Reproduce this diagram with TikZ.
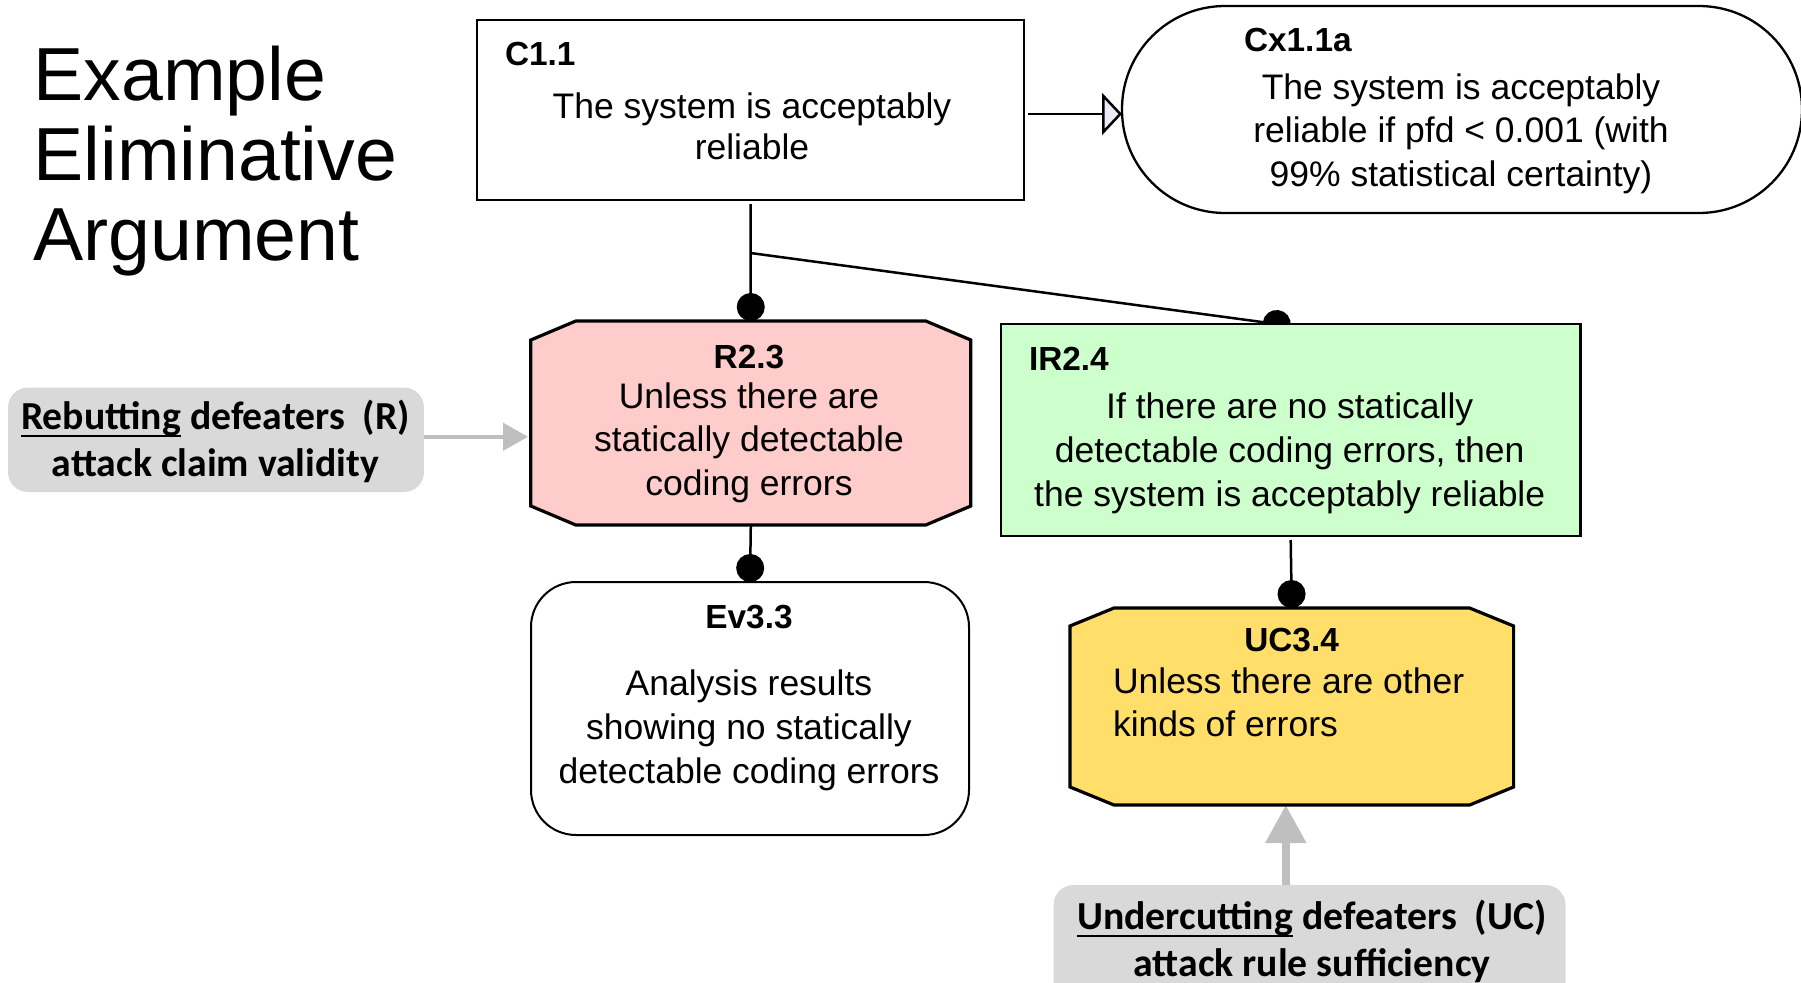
\documentclass[tikz,border=0pt]{standalone}
\usepackage{fontspec}
\setmainfont{Liberation Sans}
\newfontfamily\calloutfont{Carlito}
\usetikzlibrary{arrows.meta,calc}
\pgfdeclarelayer{background}
\pgfsetlayers{background,main}

\definecolor{rebpink}{RGB}{255,204,204}
\definecolor{infgreen}{RGB}{204,255,204}
\definecolor{ucyellow}{RGB}{255,223,105}
\definecolor{calloutgray}{RGB}{217,217,217}
\definecolor{arrowgray}{RGB}{191,191,191}
\definecolor{ctxlav}{RGB}{234,234,248}

% stacked lines whose baseline is the first line
\newcommand\txtlines[2]{\begin{tabular}[t]{@{}#1@{}}#2\end{tabular}}
% underline that crosses the descenders
\newcommand\undl[1]{\setbox0=\hbox{#1}\rlap{\rule[-2.3pt]{\wd0}{0.55pt}}#1}

\begin{document}
\begin{tikzpicture}[x=0.1mm,y=-0.1mm,
  every node/.style={inner sep=0pt,outer sep=0pt},
  titletext/.style={font=\fontsize{21.4}{23}\selectfont,anchor=base west},
  idlabel/.style={font=\fontsize{9.5}{11}\selectfont\bfseries,anchor=base west},
  idcentre/.style={font=\fontsize{9.5}{11}\selectfont\bfseries,anchor=base},
  body/.style={font=\fontsize{10.1}{12.45}\selectfont,anchor=base},
  calltext/.style={font=\calloutfont\bfseries\fontsize{11.3}{13.6}\selectfont,anchor=base},
  callbox/.style={fill=calloutgray,rounded corners=2mm},
  link/.style={draw=black,line width=0.25mm},
  dotend/.style={link,-{Circle[length=2.8mm,width=2.8mm]}},
  ctxarrow/.style={link,-{Triangle[open,length=2mm,width=4.2mm,fill=ctxlav]}},
  attackR/.style={draw=arrowgray,line width=0.45mm,-{Triangle[length=2.5mm,width=2.7mm]}},
  attackU/.style={draw=arrowgray,line width=0.83mm,-{Triangle[length=3.8mm,width=3.9mm]}}
]
\useasboundingbox (0,0) rectangle (1801,983);
\clip (0,0) rectangle (1801,983);

% title
\node[titletext] (t1) at (33.5,100) {Example};
\node[titletext] (t2) at (33.5,180) {Eliminative};
\node[titletext] (t3) at (33.5,260) {Argument};

% claim C1.1
\node[draw,line width=0.2mm,minimum width=54.7mm,minimum height=18mm] (C11) at (750.5,110) {};
\node[idlabel] (C11id) at (505,65) {C1.1};
\node[body] (C11txt) at (752,118.5) {\txtlines{c}{The system is acceptably\\[-0.7pt]reliable}};

% context Cx1.1a
\node[draw,line width=0.23mm,rounded corners=10.3mm,minimum width=68mm,minimum height=20.7mm] (Cx) at (1462,109.5) {};
\node[idlabel] (Cxid) at (1244,51.7) {Cx1.1a};
\node[body] (Cxtxt) at (1461,99) {\txtlines{c}{The system is acceptably\\reliable if pfd < 0.001 (with\\99\% statistical certainty)}};

% rebutting defeater R2.3
\node[minimum width=44mm,minimum height=20.4mm] (R23) at (750.8,423) {};
\draw[fill=rebpink,line width=0.32mm]
  ($(R23.north west)+(45,0)$) -- ($(R23.north east)+(-45,0)$) --
  ($(R23.north east)+(0,19)$) -- ($(R23.south east)+(0,-19)$) --
  ($(R23.south east)+(-45,0)$) -- ($(R23.south west)+(45,0)$) --
  ($(R23.south west)+(0,-19)$) -- ($(R23.north west)+(0,19)$) -- cycle;
\node[idcentre] (R23id) at (749,368) {R2.3};
\node[body] (R23txt) at (749,408) {\txtlines{c}{Unless there are\\statically detectable\\coding errors}};

% evidence Ev3.3
\node[draw,fill=white,line width=0.2mm,rounded corners=4.5mm,minimum width=43.8mm,minimum height=25.3mm] (Ev33) at (750,708.5) {};
\node[idcentre] (Ev33id) at (749,628.6) {Ev3.3};
\node[body] (Ev33txt) at (749,695.5) {\txtlines{c}{Analysis results\\showing no statically\\detectable coding errors}};

% inference rule IR2.4
\node[draw,fill=infgreen,line width=0.25mm,minimum width=57.95mm,minimum height=21.2mm] (IR24) at (1290.7,430) {};
\node[idlabel] (IR24id) at (1029,370.7) {IR2.4};
\node[body] (IR24txt) at (1289.7,418.5) {\txtlines{c}{If there are no statically\\detectable coding errors, then\\the system is acceptably reliable}};

% undercutting defeater UC3.4
\node[minimum width=44.36mm,minimum height=19.7mm] (UC34) at (1291.8,706.5) {};
\draw[fill=ucyellow,line width=0.32mm]
  ($(UC34.north west)+(44,0)$) -- ($(UC34.north east)+(-44,0)$) --
  ($(UC34.north east)+(0,18)$) -- ($(UC34.south east)+(0,-18)$) --
  ($(UC34.south east)+(-44,0)$) -- ($(UC34.south west)+(44,0)$) --
  ($(UC34.south west)+(0,-18)$) -- ($(UC34.north west)+(0,18)$) -- cycle;
\node[idcentre] (UC34id) at (1291.6,651.8) {UC3.4};
\node[body,anchor=base west] (UC34txt) at (1113,693) {\txtlines{l}{Unless there are other\\kinds of errors}};

% explanatory callouts
\node[callbox,minimum width=41.6mm,minimum height=10.45mm] (Reb) at (216,439.75) {};
\node[calltext] (Rebtxt) at (215.5,429) {\txtlines{c}{\undl{Rebutting} defeaters\ \ (R)\\attack claim validity}};
\node[callbox,minimum width=51.2mm,minimum height=12.5mm] (UCc) at (1309.6,947.5) {};
\node[calltext] (UCctxt) at (1312,929) {\txtlines{c}{\undl{Undercutting} defeaters\ \ (UC)\\attack rule sufficiency}};

% connectors
\begin{pgfonlayer}{background}
  \coordinate (c1) at ($(C11.south)+(0,4)$);
  \coordinate (br) at ($(C11.south)+(0,53)$);
  \coordinate (irdot) at ($(IR24.north)+(-14,0)$);
  \coordinate (ir1) at ($(IR24.south)+(0,4)$);
  \coordinate (ca) at ($(C11.east)+(4,4)$);
  \coordinate (ra) at ($(Reb.east)+(0,-3)$);
  \coordinate (ua) at ($(UC34.south)+(-6,0)$);
  \draw[dotend] (c1) -- (R23.north);
  \draw[dotend,shorten >=-1.4mm] (br) -- (irdot);
  \draw[dotend] (R23.south) -- (Ev33.north);
  \draw[dotend] (ir1) -- (UC34.north);
  \draw[ctxarrow] (ca) -- (ca -| Cx.west);
  \draw[attackR,shorten >=0.27mm] (ra) -- (ra -| R23.west);
  \draw[attackU] (ua |- UCc.north) -- (ua);
\end{pgfonlayer}
\end{tikzpicture}
\end{document}
